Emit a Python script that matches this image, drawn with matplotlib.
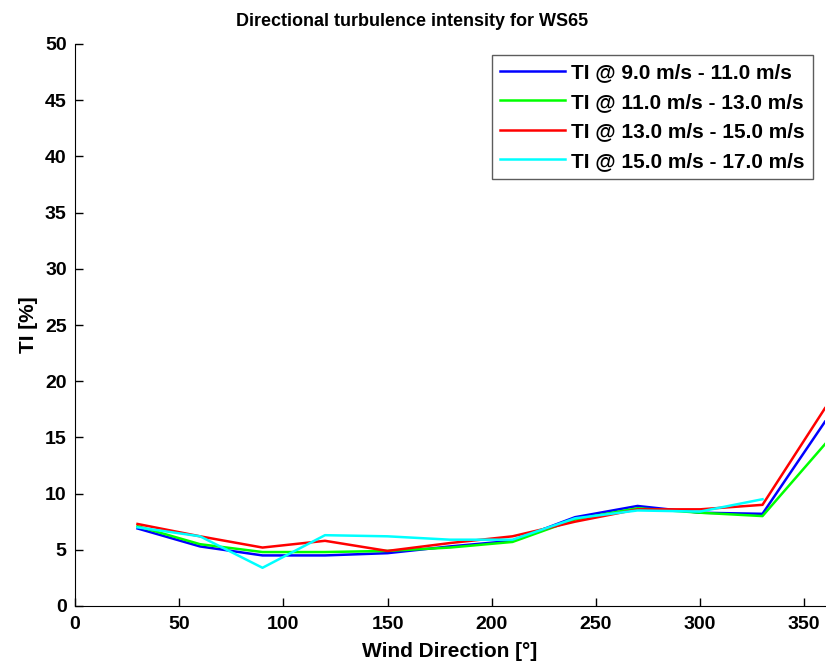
import numpy as np
import matplotlib
matplotlib.use("Agg")
import matplotlib.pyplot as plt

# wind direction sectors [deg]
directions = [30, 60, 90, 120, 150, 180, 210, 240, 270, 300, 330, 360]

ti_9_11 = [6.9, 5.3, 4.5, 4.5, 4.7, 5.3, 5.8, 7.9, 8.9, 8.3, 8.2, 16.4]
ti_11_13 = [7.1, 5.5, 4.8, 4.8, 4.9, 5.2, 5.7, 7.7, 8.7, 8.3, 8.0, 14.4]
ti_13_15 = [7.3, 6.2, 5.2, 5.8, 4.9, 5.6, 6.2, 7.5, 8.6, 8.6, 9.0, 17.6]
ti_15_17 = [7.0, 6.2, 3.4, 6.3, 6.2, 5.9, 5.9, 7.8, 8.5, 8.4, 9.5, np.nan]

labels = [
    "TI @ 9.0 m/s - 11.0 m/s",
    "TI @ 11.0 m/s - 13.0 m/s",
    "TI @ 13.0 m/s - 15.0 m/s",
    "TI @ 15.0 m/s - 17.0 m/s",
]
colors = ["#0000ff", "#00ff00", "#ff0000", "#00ffff"]

plt.rcParams["font.family"] = ["Liberation Sans", "DejaVu Sans"]
plt.rcParams["font.weight"] = "bold"

fig = plt.figure(figsize=(8.26, 6.66), dpi=100)
ax = fig.add_axes([75 / 826, 1 - 606 / 666, 750 / 826, (606 - 44) / 666])

for vals, lab, col in zip([ti_9_11, ti_11_13, ti_13_15, ti_15_17], labels, colors):
    ax.plot(directions, vals, color=col, lw=1.8, label=lab)

ax.set_xlim(0, 360)
ax.set_ylim(0, 50)
ax.set_xticks(range(0, 351, 50))
ax.set_yticks(range(0, 51, 5))
ax.spines["top"].set_visible(False)
ax.spines["right"].set_visible(False)
ax.tick_params(direction="in", length=6, width=1, labelsize=14)
ax.tick_params(axis="x", pad=7)
ax.tick_params(axis="y", pad=6)
for lbl in ax.get_xticklabels() + ax.get_yticklabels():
    lbl.set_fontweight("bold")

ax.set_xlabel("Wind Direction [°]", fontsize=15, fontweight="bold", labelpad=7)
ax.set_ylabel("TI [%]", fontsize=15, fontweight="bold", labelpad=5)
fig.text(412 / 826, 1 - 21 / 666, "Directional turbulence intensity for WS65",
         ha="center", va="center", fontsize=13, fontweight="bold")

leg = ax.legend(loc="upper right", bbox_to_anchor=(813 / 826, 1 - 55 / 666),
                bbox_transform=fig.transFigure, fontsize=15, frameon=True, fancybox=False,
                handlelength=3.1, handletextpad=0.3, borderpad=0.4, labelspacing=0.5,
                borderaxespad=0)
leg.get_frame().set_edgecolor("#333333")
leg.get_frame().set_linewidth(1)
for t in leg.get_texts():
    t.set_fontweight("bold")

fig.savefig("out.png", dpi=100)
